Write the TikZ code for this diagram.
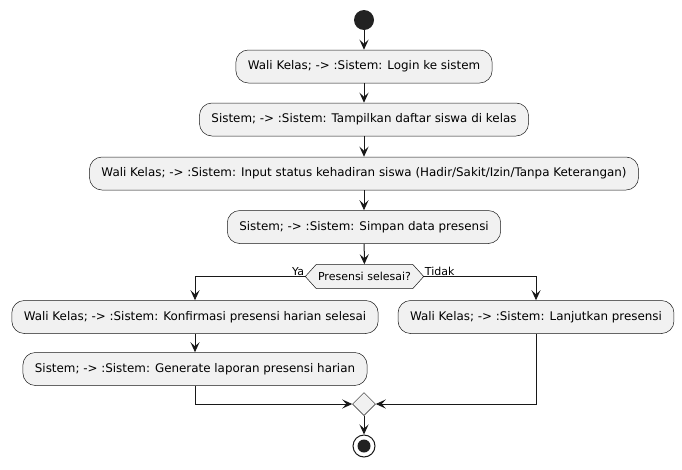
\documentclass[tikz,border=0pt]{standalone}
\usepackage{fontspec}
\setmainfont{DejaVu Sans}
\usetikzlibrary{arrows.meta,shapes.geometric}
\definecolor{boxfill}{HTML}{F1F1F1}
\definecolor{lineclr}{HTML}{181818}
\definecolor{dotclr}{HTML}{222222}
\tikzset{
  act/.style={draw=lineclr, fill=boxfill, rounded corners=12.5pt, minimum height=33pt, inner xsep=12pt, font=\fontsize{11.9pt}{14pt}\selectfont, line width=0.5pt},
  flow/.style={draw=lineclr, line width=1pt, -{Stealth[length=10pt,width=9pt,inset=4pt]}},
  lbl/.style={font=\fontsize{11pt}{13pt}\selectfont, inner sep=1pt},
  hexfill/.style={draw=lineclr, fill=boxfill, line width=0.5pt}
}
\begin{document}
\begin{tikzpicture}[x=1pt,y=-1pt]
\useasboundingbox (0,0) rectangle (682,469);
\node[circle, fill=dotclr, minimum size=20pt, inner sep=0] (start) at (364,20) {};
\node[act] (a1) at (364,66.5) {Wali Kelas; -> :Sistem: Login ke sistem};
\node[act] (a2) at (364,119.5) {Sistem; -> :Sistem: Tampilkan daftar siswa di kelas};
\node[act] (a3) at (364,173.5) {Wali Kelas; -> :Sistem: Input status kehadiran siswa (Hadir/Sakit/Izin/Tanpa Keterangan)};
\node[act] (a4) at (364,227) {Sistem; -> :Sistem: Simpan data presensi};
\node[minimum height=24pt, minimum width=118pt, inner xsep=0pt, font=\fontsize{11pt}{13pt}\selectfont] (d1) at (364.5,276.5) {Presensi selesai?};
\path[hexfill] (d1.west) -- ([xshift=11pt]d1.north west) -- ([xshift=-11pt]d1.north east) -- (d1.east) -- ([xshift=-11pt]d1.south east) -- ([xshift=11pt]d1.south west) -- cycle;
\node[font=\fontsize{11pt}{13pt}\selectfont] at (d1) {Presensi selesai?};
\node[lbl, anchor=south east] (ya) at (d1.west) {Ya};
\node[lbl, anchor=south west] (tidak) at (d1.east) {Tidak};
\node[act] (a5) at (195,317) {Wali Kelas; -> :Sistem: Konfirmasi presensi harian selesai};
\node[act] (a6) at (536,317) {Wali Kelas; -> :Sistem: Lanjutkan presensi};
\node[act] (a7) at (195,369) {Sistem; -> :Sistem: Generate laporan presensi harian};
\node[diamond, draw=lineclr, fill=boxfill, line width=0.5pt, minimum size=23pt, inner sep=0] (m) at (364,404) {};
\node[circle, draw=lineclr, line width=1pt, fill=white, minimum size=22pt, inner sep=0] (stop) at (364,446) {};
\node[circle, fill=dotclr, minimum size=13pt, inner sep=0] (stopdot) at (stop) {};
\draw[flow] (start) -- (a1);
\draw[flow] (a1) -- (a2);
\draw[flow] (a2) -- (a3);
\draw[flow] (a3) -- (a4);
\draw[flow] (a4) -- (d1);
\draw[flow] (d1.west) -| (a5.north);
\draw[flow] (d1.east) -| (a6.north);
\draw[flow] (a5) -- (a7);
\draw[flow] (a7.south) |- (m.west);
\draw[flow] (a6.south) |- (m.east);
\draw[flow] (m) -- (stop);
\end{tikzpicture}
\end{document}
